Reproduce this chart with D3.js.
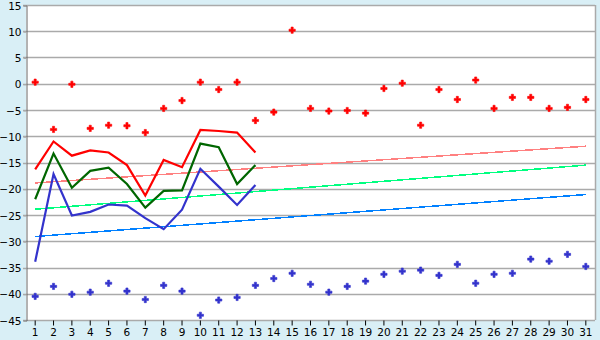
<!DOCTYPE html>
<html>
<head>
<meta charset="utf-8">
<script src="https://cdn.jsdelivr.net/npm/d3@7"></script>
<style>
  body { margin: 0; background: #d9eff6; }
  svg { display: block; }
  text { font-family: "DejaVu Sans", Verdana, sans-serif; font-size: 10.5px; fill: #000; }
</style>
</head>
<body>
<div id="chart"></div>
<script>
const days = d3.range(1, 32);
const yTicks = [-45, -40, -35, -30, -25, -20, -15, -10, -5, 0, 5, 10, 15];

// daily extremes (points)
const maxPoints = [0.3, -8.7, -0.1, -8.5, -7.9, -8.0, -9.3, -4.7, -3.2, 0.3, -1.1, 0.3, -7.0, -5.4, 10.2, -4.7,
  -5.2, -5.1, -5.6, -0.9, 0.1, -7.9, -1.1, -3.0, 0.7, -4.7, -2.6, -2.6, -4.7, -4.5, -3.0];
const minPoints = [-40.5, -38.6, -40.1, -39.7, -38.0, -39.5, -41.1, -38.4, -39.5, -44.1, -41.2, -40.7, -38.4, -37.1,
  -36.1, -38.2, -39.7, -38.6, -37.6, -36.3, -35.7, -35.5, -36.5, -34.4, -38.0, -36.3, -36.1, -33.4, -33.8, -32.5, -34.8];

// current month lines (days 1..13)
const maxLine = [-16.3, -11.0, -13.7, -12.7, -13.1, -15.5, -21.3, -14.5, -15.9, -8.8, -9.0, -9.3, -13.1];
const meanLine = [-22.0, -13.3, -19.8, -16.6, -16.0, -19.1, -23.6, -20.4, -20.3, -11.4, -12.1, -19.1, -15.5];
const minLine = [-33.9, -17.2, -25.1, -24.4, -23.0, -23.2, -25.6, -27.7, -24.0, -16.2, -19.6, -23.1, -19.3];

// normal trend lines: value at day 1 and day 31
const trendMax = [-18.9, -11.9];
const trendMean = [-23.9, -15.5];
const trendMin = [-29.1, -21.1];

const width = 600, height = 340;
const margin = { top: 5, right: 5, bottom: 20, left: 26 };

const svg = d3.select('#chart').append('svg')
  .attr('width', width)
  .attr('height', height);

const x = d3.scaleBand()
  .domain(days)
  .range([margin.left, width - margin.right]);
const xc = d => x(d) + x.bandwidth() / 2;

const y = d3.scaleLinear()
  .domain([-45, 15])
  .range([height - margin.bottom, margin.top]);

svg.append('rect')
  .attr('x', margin.left)
  .attr('y', margin.top)
  .attr('width', width - margin.right - margin.left)
  .attr('height', y(-45) - margin.top)
  .attr('fill', '#fff');

// grid
svg.append('g')
  .selectAll('line')
  .data(yTicks)
  .enter().append('line')
  .attr('x1', margin.left - 3)
  .attr('x2', width - margin.right)
  .attr('y1', d => Math.round(y(d)) + 0.5)
  .attr('y2', d => Math.round(y(d)) + 0.5)
  .attr('stroke', '#aaa')
  .attr('stroke-width', 1.5);

svg.append('line')
  .attr('x1', width - margin.right + 0.5)
  .attr('x2', width - margin.right + 0.5)
  .attr('y1', margin.top)
  .attr('y2', y(-45))
  .attr('stroke', '#aaa')
  .attr('stroke-width', 1.5);

// y axis
const yAxis = svg.append('g')
  .attr('transform', 'translate(' + (margin.left + 0.5) + ',0.5)')
  .call(d3.axisLeft(y).tickValues(yTicks).tickSize(3).tickPadding(2).tickFormat(d3.format('d')));
yAxis.select('.domain').attr('stroke', '#666');
yAxis.selectAll('.tick line').attr('stroke', '#aaa');
yAxis.selectAll('text').attr('font-family', null).attr('font-size', null).attr('fill', '#000').attr('dy', '0.35em');

// x axis
const xAxis = svg.append('g')
  .attr('transform', 'translate(0,' + (Math.round(y(-45)) + 0.5) + ')')
  .call(d3.axisBottom(x).tickSize(5).tickPadding(3));
xAxis.select('.domain').remove();
xAxis.selectAll('.tick line').attr('stroke', '#000');
xAxis.selectAll('text').attr('font-family', null).attr('font-size', null).attr('fill', '#000');

// trend lines
const trends = [
  { v: trendMax, color: '#ff8080' },
  { v: trendMean, color: '#00ff80' },
  { v: trendMin, color: '#0080ff' }
];
svg.append('g')
  .selectAll('line')
  .data(trends)
  .enter().append('line')
  .attr('x1', xc(1))
  .attr('x2', xc(31))
  .attr('y1', d => y(d.v[0]))
  .attr('y2', d => y(d.v[1]))
  .attr('stroke', d => d.color)
  .attr('stroke-width', 1.5)
  .attr('shape-rendering', 'crispEdges');

// month lines
const line = d3.line()
  .x((d, i) => xc(days[i]))
  .y(d => y(d));
const series = [
  { v: maxLine, color: '#ff0000' },
  { v: meanLine, color: '#006600' },
  { v: minLine, color: '#3333cc' }
];
svg.append('g')
  .selectAll('path')
  .data(series)
  .enter().append('path')
  .attr('d', d => line(d.v))
  .attr('fill', 'none')
  .attr('stroke', d => d.color)
  .attr('stroke-width', 2.2);

// extreme points
const cross = d3.symbol().type(d3.symbolCross).size(22);
const pts = [
  { v: maxPoints, color: '#ff0000' },
  { v: minPoints, color: '#3333cc' }
];
pts.forEach(function(p) {
  svg.append('g')
    .selectAll('path')
    .data(p.v)
    .enter().append('path')
    .attr('d', cross)
    .attr('transform', (d, i) => 'translate(' + xc(days[i]) + ',' + y(d) + ')')
    .attr('fill', p.color)
    .attr('stroke', p.color)
    .attr('stroke-width', 0.6);
});
</script>
</body>
</html>
